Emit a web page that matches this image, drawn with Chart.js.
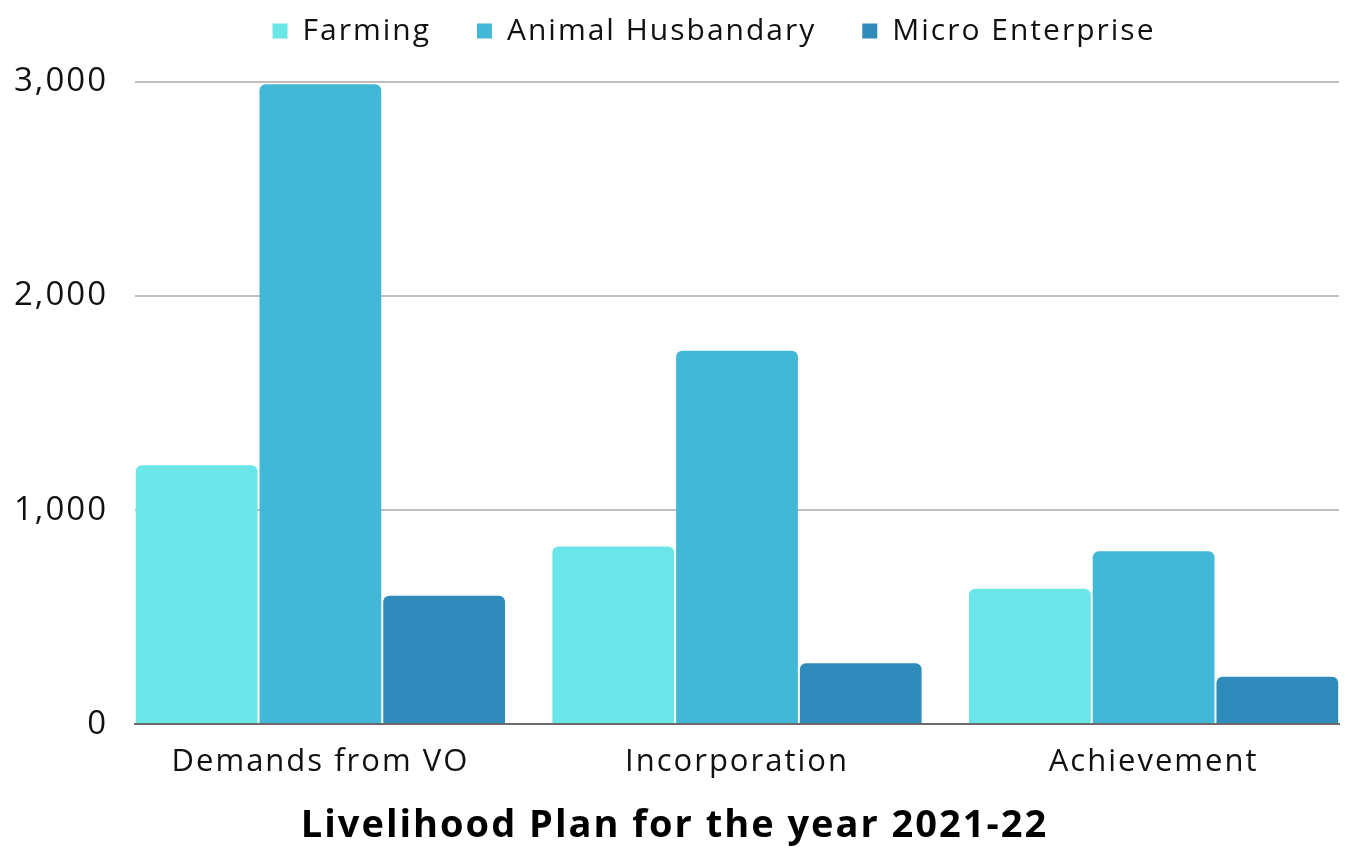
<!DOCTYPE html>
<html>
<head>
<meta charset="utf-8">
<script src="https://cdn.jsdelivr.net/npm/chart.js@4"></script>
<style>
  html, body { margin: 0; padding: 0; background: #ffffff; }
  #wrap { width: 1350px; height: 856px; }
</style>
</head>
<body>
<div id="wrap"><canvas id="c" width="1350" height="856"></canvas></div>
<script>
const categories = ["Demands from VO", "Incorporation", "Achievement"];
const farming = [1210, 830, 633];
const animalHusbandary = [2990, 1745, 808];
const microEnterprise = [600, 285, 222];
const yTicks = [0, 1000, 2000, 3000];
const titleText = "Livelihood Plan for the year 2021-22";

const FONT = "'Open Sans', sans-serif";
const toPoints = arr => arr.map((v, i) => ({ x: i, y: v }));

const spacingPlugin = {
  id: 'spacing',
  beforeLayout(chart) { chart.ctx.letterSpacing = '2px'; },
  beforeDraw(chart) { chart.ctx.letterSpacing = '2px'; },
  afterLayout(chart) {
    if (chart.legend) {
      chart.legend.left += 44.5; chart.legend.right += 44.5;
      chart.legend.top -= 26; chart.legend.bottom -= 26;
    }
    if (chart.titleBlock) { chart.titleBlock.left += 5; chart.titleBlock.right += 5; }
  }
};

new Chart(document.getElementById('c'), {
  type: 'bar',
  plugins: [spacingPlugin],
  data: {
    datasets: [
      { label: 'Farming', data: toPoints(farming), backgroundColor: '#6ae5e8' },
      { label: 'Animal Husbandary', data: toPoints(animalHusbandary), backgroundColor: '#42b7d6' },
      { label: 'Micro Enterprise', data: toPoints(microEnterprise), backgroundColor: '#2e8bba' }
    ]
  },
  options: {
    responsive: false,
    animation: false,
    devicePixelRatio: 1,
    layout: { padding: { left: 0, right: 11, top: -32, bottom: 3 } },
    datasets: {
      bar: {
        categoryPercentage: 0.891,
        barPercentage: 0.984,
        borderRadius: 6,
        borderSkipped: 'bottom'
      }
    },
    scales: {
      x: {
        type: 'linear',
        offset: false,
        min: -0.445,
        max: 2.445,
        afterBuildTicks: s => { s.ticks = categories.map((c, i) => ({ value: i })); },
        ticks: {
          stepSize: 1,
          includeBounds: false,
          padding: 11,
          color: '#111111',
          font: { family: FONT, size: 31 },
          callback: v => categories[v]
        },
        grid: { display: false },
        border: { display: true, color: '#6b6b6b', width: 2, z: 1 }
      },
      y: {
        min: 0,
        max: 3000,
        afterBuildTicks: s => { s.ticks = yTicks.map(v => ({ value: v })); },
        afterFit: s => { s.width = 135; s.paddingTop = 82; },
        ticks: {
          padding: 27,
          color: '#111111',
          font: { family: FONT, size: 33 },
          callback: v => v.toLocaleString('en-US')
        },
        grid: {
          color: ctx => (ctx.tick && ctx.tick.value === 0) ? 'rgba(0,0,0,0)' : '#bfbfbf',
          lineWidth: 2,
          drawTicks: false
        },
        border: { display: false }
      }
    },
    plugins: {
      legend: {
        position: 'top',
        fullSize: true,
        labels: {
          boxWidth: 15,
          boxHeight: 15,
          padding: 46,
          color: '#111111',
          font: { family: FONT, size: 30 }
        }
      },
      title: {
        display: true,
        position: 'bottom',
        text: titleText,
        color: '#000000',
        font: { family: FONT, size: 38, weight: 'bold' },
        padding: { top: 12, bottom: 4 }
      },
      tooltip: { enabled: false }
    }
  }
});
</script>
</body>
</html>
